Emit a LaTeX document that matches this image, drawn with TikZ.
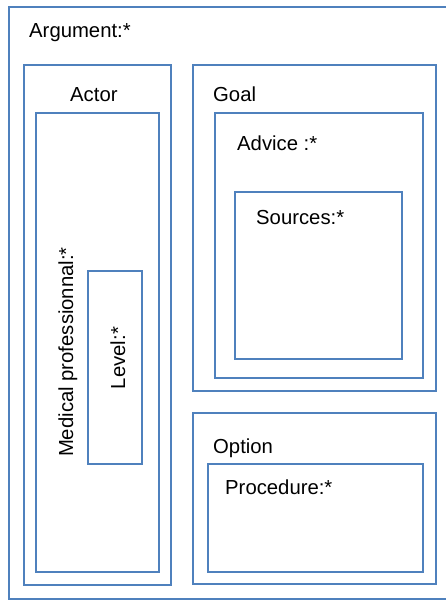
\documentclass[tikz,border=0pt]{standalone}
\usepackage{fontspec}
\setmainfont{Liberation Sans}
\definecolor{boxblue}{RGB}{79,129,189}
\tikzset{
  frame/.style={draw=boxblue, line width=1.7pt, inner sep=0pt, anchor=north west},
  lbl/.style={anchor=base west, inner sep=0pt, font=\fontsize{20.3}{24}\selectfont}
}
\begin{document}
\begin{tikzpicture}[x=1pt,y=-1pt]
  \useasboundingbox (0,0) rectangle (446,600);
  \clip (0,0) rectangle (446,600);
  % outer frame runs past the right edge
  \node[frame, minimum width=460pt, minimum height=592pt] (argument) at (8,6) {};
  \node[lbl] (argtext) at (29,37) {Argument:*};

  % left column
  \node[frame, minimum width=147pt, minimum height=520pt] (actor) at (23,64) {};
  \node[lbl] (actortext) at (70,101) {Actor};
  \node[frame, minimum width=123pt, minimum height=459pt] (medprof) at (35,112) {};
  \node[lbl, anchor=base, rotate=90] (medtext) at (73,352) {Medical professionnal:*};
  \node[frame, minimum width=54pt, minimum height=193pt] (level) at (87,270) {};
  \node[lbl, anchor=base, rotate=90] (leveltext) at (125,358) {Level:*};

  % right column, top
  \node[frame, minimum width=243pt, minimum height=326pt] (goal) at (192,64) {};
  \node[lbl] (goaltext) at (213,101) {Goal};
  \node[frame, minimum width=208pt, minimum height=265pt] (advice) at (214,112) {};
  \node[lbl] (advicetext) at (237,150) {Advice :*};
  \node[frame, minimum width=167pt, minimum height=167pt] (sources) at (234,191) {};
  \node[lbl] (sourcestext) at (256,224) {Sources:*};

  % right column, bottom
  \node[frame, minimum width=243pt, minimum height=171pt] (option) at (192,412) {};
  \node[lbl] (optiontext) at (213,453) {Option};
  \node[frame, minimum width=215pt, minimum height=108pt] (procedure) at (207,463) {};
  \node[lbl] (proctext) at (225,494) {Procedure:*};
\end{tikzpicture}
\end{document}
